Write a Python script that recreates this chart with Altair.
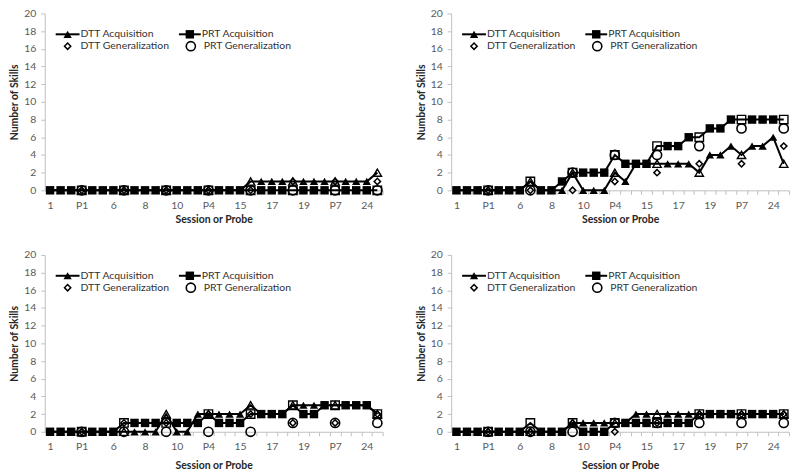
import altair as alt
import pandas as pd

# x categories: sessions with probes interleaved
categories = ["1", "2", "3", "P1", "4", "5", "6", "P2", "7", "8", "9", "P3",
              "10", "11", "12", "P4", "13", "14", "15", "P5", "16", "17", "18", "P6",
              "19", "20", "21", "P7", "22", "23", "24", "P8"]
probes = ["P1", "P2", "P3", "P4", "P5", "P6", "P7", "P8"]
shown_labels = ["1", "P1", "6", "8", "10", "P4", "15", "17", "19", "P7", "24"]
y_ticks = [0, 2, 4, 6, 8, 10, 12, 14, 16, 18, 20]

# Panel 1 (top-left)
p1_dtt_acq = [0, 0, 0, 0, 0, 0, 0, 0, 0, 0, 0, 0, 0, 0, 0, 0, 0, 0, 0, 1, 1, 1, 1, 1, 1, 1, 1, 1, 1, 1, 1, 2]
p1_prt_acq = [0, 0, 0, 0, 0, 0, 0, 0, 0, 0, 0, 0, 0, 0, 0, 0, 0, 0, 0, 0, 0, 0, 0, 0, 0, 0, 0, 0, 0, 0, 0, 0]
p1_dtt_gen = [0, 0, 0, 0, 0, 1, 1, 1]
p1_prt_gen = [0, 0, 0, 0, 0, 0, 0, 0]

# Panel 2 (top-right)
p2_dtt_acq = [0, 0, 0, 0, 0, 0, 0, 1, 0, 0, 0, 2, 0, 0, 0, 2, 1, 3, 3, 3, 3, 3, 3, 2, 4, 4, 5, 4, 5, 5, 6, 3]
p2_prt_acq = [0, 0, 0, 0, 0, 0, 0, 1, 0, 0, 1, 2, 2, 2, 2, 4, 3, 3, 3, 5, 5, 5, 6, 6, 7, 7, 8, 8, 8, 8, 8, 8]
p2_dtt_gen = [0, 0, 0, 1, 2, 3, 3, 5]
p2_prt_gen = [0, 0, 2, 4, 4, 5, 7, 7]

# Panel 3 (bottom-left)
p3_dtt_acq = [0, 0, 0, 0, 0, 0, 0, 0, 0, 0, 0, 2, 0, 0, 2, 2, 2, 2, 2, 3, 2, 2, 2, 3, 3, 3, 3, 3, 3, 3, 3, 2]
p3_prt_acq = [0, 0, 0, 0, 0, 0, 0, 1, 1, 1, 1, 1, 1, 1, 1, 2, 1, 1, 1, 2, 2, 2, 2, 3, 2, 2, 3, 3, 3, 3, 3, 2]
p3_dtt_gen = [0, 1, 1, 2, 2, 1, 1, 2]
p3_prt_gen = [0, 0, 0, 0, 0, 1, 1, 1]

# Panel 4 (bottom-right)
p4_dtt_acq = [0, 0, 0, 0, 0, 0, 0, 0, 0, 0, 0, 1, 1, 1, 1, 1, 1, 2, 2, 2, 2, 2, 2, 2, 2, 2, 2, 2, 2, 2, 2, 2]
p4_prt_acq = [0, 0, 0, 0, 0, 0, 0, 1, 0, 0, 0, 1, 0, 0, 0, 1, 1, 1, 1, 1, 1, 1, 1, 2, 2, 2, 2, 2, 2, 2, 2, 2]
p4_dtt_gen = [0, 0, 1, 0, 1, 2, 2, 2]
p4_prt_gen = [0, 0, 0, 1, 1, 1, 1, 1]

FONT = "Lato"
W, H = 340, 178
LEG_FS = 10.5
HALF_STEP = W / len(categories) / 2


def one_row():
    return pd.DataFrame({"k": [0]})


def legend_layers():
    r1, r2 = 21, 33
    items = []
    # DTT Acquisition
    items.append(alt.Chart(one_row()).mark_rule(color="black", strokeWidth=2).encode(
        x=alt.value(11), x2=alt.value(35), y=alt.value(r1)))
    items.append(alt.Chart(one_row()).mark_point(shape="triangle-up", filled=True, color="black",
                                                 size=70, opacity=1).encode(x=alt.value(23), y=alt.value(r1)))
    items.append(alt.Chart(one_row()).mark_text(align="left", baseline="middle", font=FONT, fontSize=LEG_FS,
                                                color="#333333").encode(
        x=alt.value(36), y=alt.value(r1), text=alt.value("DTT Acquisition")))
    # PRT Acquisition
    items.append(alt.Chart(one_row()).mark_rule(color="black", strokeWidth=2).encode(
        x=alt.value(135), x2=alt.value(157), y=alt.value(r1)))
    items.append(alt.Chart(one_row()).mark_point(shape="square", filled=True, color="black",
                                                 size=72, opacity=1).encode(x=alt.value(146), y=alt.value(r1)))
    items.append(alt.Chart(one_row()).mark_text(align="left", baseline="middle", font=FONT, fontSize=LEG_FS,
                                                color="#333333").encode(
        x=alt.value(158), y=alt.value(r1), text=alt.value("PRT Acquisition")))
    # DTT Generalization
    items.append(alt.Chart(one_row()).mark_point(shape="diamond", filled=False, color="black",
                                                 strokeWidth=1.5, size=40, opacity=1).encode(
        x=alt.value(23), y=alt.value(r2)))
    items.append(alt.Chart(one_row()).mark_text(align="left", baseline="middle", font=FONT, fontSize=LEG_FS,
                                                color="#333333").encode(
        x=alt.value(36), y=alt.value(r2), text=alt.value("DTT Generalization")))
    # PRT Generalization
    items.append(alt.Chart(one_row()).mark_point(shape="circle", filled=False, color="black",
                                                 strokeWidth=1.6, size=85, opacity=1).encode(
        x=alt.value(147), y=alt.value(r2)))
    items.append(alt.Chart(one_row()).mark_text(align="left", baseline="middle", font=FONT, fontSize=LEG_FS,
                                                color="#333333").encode(
        x=alt.value(160), y=alt.value(r2), text=alt.value("PRT Generalization")))
    return items


def panel(dtt_acq, prt_acq, dtt_gen, prt_gen, x_title_pad):
    rows = []
    for c, v in zip(categories, dtt_acq):
        rows.append({"cat": c, "series": "DTT Acquisition", "value": v, "probe": c.startswith("P")})
    for c, v in zip(categories, prt_acq):
        rows.append({"cat": c, "series": "PRT Acquisition", "value": v, "probe": c.startswith("P")})
    for c, v in zip(probes, dtt_gen):
        rows.append({"cat": c, "series": "DTT Generalization", "value": v, "probe": True})
    for c, v in zip(probes, prt_gen):
        rows.append({"cat": c, "series": "PRT Generalization", "value": v, "probe": True})
    df = pd.DataFrame(rows)

    label_list = "[" + ",".join("'" + s + "'" for s in shown_labels) + "]"
    x = alt.X("cat:O", sort=categories,
              scale=alt.Scale(type="point", domain=categories, padding=0.5),
              axis=alt.Axis(title="Session or Probe", labelAngle=0, labelOverlap=False,
                            labelExpr="indexof(" + label_list + ", datum.value) >= 0 ? datum.label : ''",
                            tickSize=4, labelPadding=6, titlePadding=x_title_pad,
                            tickOffset=HALF_STEP, labelOffset=-HALF_STEP))
    y = alt.Y("value:Q", scale=alt.Scale(domain=[0, 20], nice=False),
              axis=alt.Axis(values=y_ticks, title="Number of Skills", grid=False,
                            tickSize=4, labelPadding=5, titlePadding=4))
    base = alt.Chart(df).encode(x=x, y=y)

    lines = base.transform_filter(
        alt.FieldOneOfPredicate(field="series", oneOf=["DTT Acquisition", "PRT Acquisition"])
    ).mark_line(color="black", strokeWidth=2).encode(detail="series:N")

    prt_fill = base.transform_filter(
        "datum.series == 'PRT Acquisition' && !datum.probe"
    ).mark_point(shape="square", filled=True, color="black", size=72, opacity=1)
    prt_open = base.transform_filter(
        "datum.series == 'PRT Acquisition' && datum.probe"
    ).mark_point(shape="square", filled=False, color="black", strokeWidth=1.4, size=72, opacity=1)
    dtt_fill = base.transform_filter(
        "datum.series == 'DTT Acquisition' && !datum.probe"
    ).mark_point(shape="triangle-up", filled=True, color="black", size=70, opacity=1)
    dtt_open = base.transform_filter(
        "datum.series == 'DTT Acquisition' && datum.probe"
    ).mark_point(shape="triangle-up", filled=False, color="black", strokeWidth=1.4, size=70, opacity=1)
    dgen = base.transform_filter(
        "datum.series == 'DTT Generalization'"
    ).mark_point(shape="diamond", filled=False, color="black", strokeWidth=1.5, size=40, opacity=1)
    pgen = base.transform_filter(
        "datum.series == 'PRT Generalization'"
    ).mark_point(shape="circle", filled=False, color="black", strokeWidth=1.6, size=85, opacity=1)

    layers = [lines, prt_fill, dtt_fill, prt_open, dtt_open, dgen, pgen] + legend_layers()
    return alt.layer(*layers).properties(width=W, height=H)


c1 = panel(p1_dtt_acq, p1_prt_acq, p1_dtt_gen, p1_prt_gen, 4)
c2 = panel(p2_dtt_acq, p2_prt_acq, p2_dtt_gen, p2_prt_gen, 4)
c3 = panel(p3_dtt_acq, p3_prt_acq, p3_dtt_gen, p3_prt_gen, 8)
c4 = panel(p4_dtt_acq, p4_prt_acq, p4_dtt_gen, p4_prt_gen, 8)

chart = alt.vconcat(
    alt.hconcat(c1, c2, spacing=30),
    alt.hconcat(c3, c4, spacing=30),
    spacing=25,
).properties(
    padding={"left": 1, "top": -1, "right": 0, "bottom": 0},
    background="white",
).configure_view(stroke=None).configure_axis(
    domainColor="#BFBFBF", tickColor="#BFBFBF", labelColor="#595959",
    labelFont=FONT, labelFontSize=10.5, titleFont=FONT, titleFontSize=10.5,
    titleFontWeight="bold", titleColor="#262626",
)

chart.save("out.html", embed_options={"renderer": "svg", "actions": False})
